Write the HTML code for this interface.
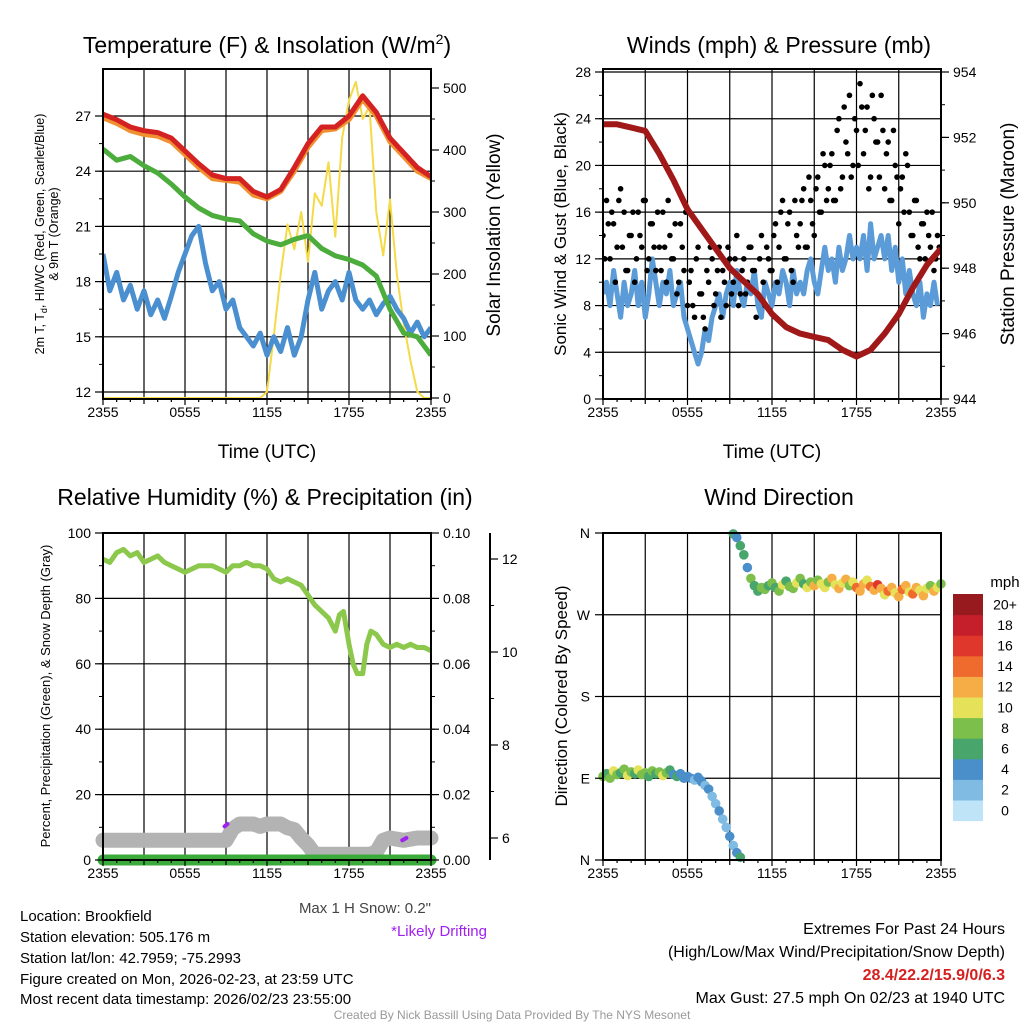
<!DOCTYPE html>
<html><head><meta charset="utf-8"><style>
body{margin:0;background:#fff}
svg{display:block;font-family:"Liberation Sans",sans-serif}
</style></head><body>
<svg id="chart" width="1024" height="1024" viewBox="0 0 1024 1024" xmlns="http://www.w3.org/2000/svg">
<rect x="0" y="0" width="1024" height="1024" fill="#fff"/>
<defs>
<clipPath id="c1"><rect x="103" y="69" width="328" height="330"/></clipPath>
<clipPath id="c2"><rect x="603" y="69" width="338" height="330"/></clipPath>
<clipPath id="c3"><rect x="90" y="533" width="350" height="340"/></clipPath>
<clipPath id="c4"><rect x="596" y="526" width="352" height="341"/></clipPath>
</defs>
<text x="267" y="53" font-size="23" text-anchor="middle">Temperature (F) &amp; Insolation (W/m<tspan font-size="14" dy="-9">2</tspan><tspan dy="9">)</tspan></text>
<text x="779" y="53" font-size="23" text-anchor="middle">Winds (mph) &amp; Pressure (mb)</text>
<text x="265" y="505" font-size="23" text-anchor="middle">Relative Humidity (%) &amp; Precipitation (in)</text>
<text x="779" y="505" font-size="23" text-anchor="middle">Wind Direction</text>
<text x="267" y="458" font-size="19" text-anchor="middle">Time (UTC)</text>
<text x="772" y="458" font-size="19" text-anchor="middle">Time (UTC)</text>
<text transform="translate(44,234) rotate(-90)" font-size="12.5" text-anchor="middle">2m T, T<tspan font-size="9" dy="3">d</tspan><tspan dy="-3">, HI/WC (Red, Green, Scarlet/Blue)</tspan></text>
<text transform="translate(58,234) rotate(-90)" font-size="12.5" text-anchor="middle">&amp; 9m T (Orange)</text>
<text transform="translate(500,235) rotate(-90)" font-size="19" text-anchor="middle">Solar Insolation (Yellow)</text>
<text transform="translate(566,234) rotate(-90)" font-size="17" text-anchor="middle">Sonic Wind &amp; Gust (Blue, Black)</text>
<text transform="translate(1014,234) rotate(-90)" font-size="19" text-anchor="middle">Station Pressure (Maroon)</text>
<text transform="translate(50,696) rotate(-90)" font-size="13" text-anchor="middle">Percent, Precipitation (Green), &amp; Snow Depth (Gray)</text>
<text transform="translate(567,696) rotate(-90)" font-size="17" text-anchor="middle">Direction (Colored By Speed)</text>
<text x="431" y="913" font-size="15" fill="#444" text-anchor="end">Max 1 H Snow: 0.2"</text>
<text x="487" y="936" font-size="15" fill="#a020f0" text-anchor="end">*Likely Drifting</text>
<g font-size="15">
<text x="20" y="921">Location: Brookfield</text>
<text x="20" y="942">Station elevation: 505.176 m</text>
<text x="20" y="963">Station lat/lon: 42.7959; -75.2993</text>
<text x="20" y="984">Figure created on Mon, 2026-02-23, at 23:59 UTC</text>
<text x="20" y="1004">Most recent data timestamp: 2026/02/23 23:55:00</text>
</g>
<g font-size="16" text-anchor="end">
<text x="1005" y="934">Extremes For Past 24 Hours</text>
<text x="1005" y="957">(High/Low/Max Wind/Precipitation/Snow Depth)</text>
<text x="1005" y="980" font-weight="bold" fill="#d42020">28.4/22.2/15.9/0/6.3</text>
<text x="1005" y="1003">Max Gust: 27.5 mph On 02/23 at 1940 UTC</text>
</g>
<text x="512" y="1019" font-size="12" fill="#999" text-anchor="middle">Created By Nick Bassill Using Data Provided By The NYS Mesonet</text>
<text x="1005" y="587" font-size="15" text-anchor="middle">mph</text>
</svg>
<script>
// ---------- DATA ----------
const tempHours = [0,1,2,3,4,5,6,7,8,9,10,11,12,13,14,15,16,17,18,19,20,21,22,23,24];
const temp2m = [27.1,26.8,26.4,26.2,26.1,25.8,25.1,24.4,23.8,23.6,23.6,22.9,22.6,23.0,24.2,25.5,26.4,26.4,27.0,28.1,27.2,25.8,25.0,24.2,23.7];
const temp9m = [26.9,26.6,26.2,26.0,25.9,25.6,24.9,24.2,23.6,23.5,23.4,22.7,22.5,22.9,24.0,25.3,26.2,26.3,26.8,27.9,27.0,25.6,24.8,24.0,23.6];
const dewpoint = [25.2,24.6,24.8,24.3,23.9,23.3,22.6,22.0,21.6,21.4,21.3,20.6,20.2,20.0,20.3,20.5,19.8,19.4,19.2,18.9,18.3,16.5,15.2,15.0,14.0];
const halfHours = [0,0.5,1,1.5,2,2.5,3,3.5,4,4.5,5,5.5,6,6.5,7,7.5,8,8.5,9,9.5,10,10.5,11,11.5,12,12.5,13,13.5,14,14.5,15,15.5,16,16.5,17,17.5,18,18.5,19,19.5,20,20.5,21,21.5,22,22.5,23,23.5,24];
const windChill = [19.5,17.5,18.5,17,17.8,16.5,17.5,16.2,17,16,17.2,18.5,19.5,20.5,21,19,17.5,18,16.5,17,15.5,15,14.5,15.2,14,15,14.2,15.5,14,15,17,18.5,16.5,17.5,18,17,18.5,17,16.5,17,16.2,16.8,17.2,16.5,16,15.2,15.8,15,15.5];
const solar = [0,0,0,0,0,0,0,0,0,0,0,0,0,0,0,0,0,0,0,0,0,0,0,0,10,100,200,280,240,300,220,330,310,380,260,420,480,510,450,470,300,230,320,200,120,60,10,0,0];
const tempTicks = [12,15,18,21,24,27];
const solarTicks = [0,100,200,300,400,500];
const timeLabels = ['2355','0555','1155','1755','2355'];

const quarterStep = 0.25;
const sonicWind = [9,10,8,11,9,7,10,8, 9,11,8,10,7,9,12,10, 8,10,9,11,8,9,10,7, 6,5,4,3,4,6,5,7, 8,9,7,9,10,8,11,9, 8,10,9,11,8,7,10,9, 8,10,9,11,10,8,11,9, 10,9,11,12,10,9,11,13, 11,12,10,13,11,12,14,12, 13,12,14,11,15,12,13,14, 12,14,11,13,10,12,9,11, 9,8,10,7,9,8,10,8];
const gusts = [14,17,12,15,13,18,16,11, 14,10,16,13,17,12,15,11, 13,16,10,14,12,9,15,11, 8,11,7,13,9,6,10,12, 9,13,11,8,12,10,14,9, 12,10,13,11,9,14,8,12, 11,15,13,17,12,16,10,14, 15,18,13,17,14,19,16,20, 18,21,17,24,19,22,26,20, 23,27,21,25,19,24,22,26, 18,22,17,20,15,19,21,16, 14,17,12,15,16,13,11,14];
const gusts2 = [12,15,16,10,17,13,11,14, 16,12,14,17,11,15,13,16, 11,13,17,12,15,10,13,16, 10,8,12,9,7,11,13,8, 11,7,10,13,9,12,8,11, 9,13,11,7,12,10,13,11, 14,10,16,12,15,11,17,13, 17,13,19,15,18,16,21,17, 20,17,23,18,25,21,19,24, 20,25,23,18,26,22,19,23, 21,17,23,19,18,16,20,14, 17,13,15,12,14,16,12,13];
const pressure = [952.4,952.4,952.3,952.2,951.5,950.7,949.8,949.2,948.6,948.0,947.6,947.2,946.6,946.2,946.0,945.9,945.8,945.5,945.3,945.5,946.0,946.6,947.4,948.1,948.6];
const windTicks = [0,4,8,12,16,20,24,28];
const pressTicks = [944,946,948,950,952,954];

const rhHours = [0,0.5,1,1.5,2,2.5,3,3.5,4,4.5,5,5.5,6,6.5,7,7.5,8,8.5,9,9.5,10,10.5,11,11.5,12,12.5,13,13.5,14,14.5,15,15.5,16,16.5,17,17.3,17.6,18,18.3,18.6,19,19.3,19.6,20,20.5,21,21.5,22,22.5,23,23.5,24];
const rh = [92,91,94,95,93,94,91,92,93,91,90,89,88,89,90,90,90,89,88,90,90,91,90,90,89,86,85,86,85,84,81,78,76,74,70,75,76,66,60,57,57,66,70,69,66,65,66,65,66,65,65,64];
const snowHours = [0,2,4,6,8,9,9.5,10,11,11.5,12,13,13.5,14,14.5,15,15.5,17,19,19.5,20,20.5,21,22,23,24];
const snowDepth = [5.95,5.95,5.95,5.95,5.95,5.95,6.2,6.3,6.3,6.25,6.3,6.3,6.22,6.18,6.0,5.85,5.65,5.65,5.65,5.65,5.7,5.95,6.0,5.95,6.0,6.0];
const precip = [0,0];
const precipHours = [0,24];
const rhTicks = [0,20,40,60,80,100];
const precipTicks = [0,0.02,0.04,0.06,0.08,0.10];
const snowTicks = [6,8,10,12];
const driftHours = [[8.9,9.1],[21.9,22.2]];
const driftDepth = [[6.25,6.3],[5.95,6.0]];

const dirSeg1 = [92,95,90,98,94,96,100,93,97,95,99,94,96,92,98,95,97,93,96,99,94,92,95,90,92,90,88,91,87];
const spdSeg1 = [8,7,9,10,8,6,9,11,8,7,10,9,8,6,9,7,8,10,9,6,5,6,5,4,5,4,3,5,4];
const dirSeg2 = [86,82,78,70,62,54,45,36,26,16,8,3];
const spdSeg2 = [4,3,4,2,3,4,2,3,4,3,5,6];
const dirSeg3 = [359,355,346,336,322,310,302,296,300];
const spdSeg3 = [6,4,7,6,5,8,7,6,9];
const dirSeg4 = [298,302,305,300,296,303,307,301,299,305,310,304,300,306,302,308,304,300,306,310,303,299,305,309,302,306,300,296,304,308,301,297,303,299,292,296,300,294,290,298,302,295,293,300,297,291,299,302,296,300,304];
const spdSeg4 = [8,7,9,6,8,10,7,9,8,11,9,7,10,8,12,9,11,10,8,12,11,13,10,12,9,11,14,12,13,11,15,12,16,13,11,14,12,10,13,15,12,11,14,12,10,13,11,9,12,10,8];
const segStarts = [0,7,9.25,11.5];
const dirTicks = [0,90,180,270,360];
const dirLabels = ['N','E','S','W','N'];
const speedColors = ['#bfe4f7','#7fbbe3','#4a8fca','#48a56c','#7cc04b','#e5e25a','#f6ad45','#ef6a2d','#e0372d','#c41f2a','#961a1e'];
const speedLabels = ['0','2','4','6','8','10','12','14','16','18','20+'];

// ---------- HELPERS ----------
const NS='http://www.w3.org/2000/svg';
const svg=document.getElementById('chart');
function mk(tag, attrs, parent){const e=document.createElementNS(NS,tag);for(const k in attrs)e.setAttribute(k,attrs[k]);(parent||svg).appendChild(e);return e;}
function lin(d0,d1,r0,r1){return v=>r0+(v-d0)*(r1-r0)/(d1-d0);}
function pathD(xs,ys,fx,fy){return xs.map((t,i)=>(i?'L':'M')+fx(t).toFixed(1)+','+fy(ys[i]).toFixed(1)).join('');}

function drawFrame(name,x0,x1,y0,y1,fx,yTicksPos,gridY){
  const g=mk('g',{});
  
  
  for(let h=3;h<24;h+=3){mk('line',{x1:fx(h),x2:fx(h),y1:y0,y2:y1,stroke:'#000','stroke-width':1.2},g);}
  if(gridY) yTicksPos.forEach(y=>{mk('line',{x1:x0,x2:x1,y1:y,y2:y,stroke:'#000','stroke-width':1.2},g);});
  return g;
}
function drawBox(name,x0,x1,y0,y1){
  const r=mk('rect',{x:x0,y:y0,width:x1-x0,height:y1-y0,fill:'none',stroke:'#000','stroke-width':2});
  
  
}
function xAxis(name,fx,y1){
  const g=mk('g',{});
  
  
  for(let h=0;h<=24;h+=1){const L=h%6===0?6:(h%3===0?5:3);mk('line',{x1:fx(h),x2:fx(h),y1:y1,y2:y1+L,stroke:'#000','stroke-width':1.2},g);}
  timeLabels.forEach((s,i)=>{const t=mk('text',{x:fx(i*6),y:y1+18,'font-size':14,'text-anchor':'middle'},g);t.textContent=s;});
}
function yAxis(name,x,side,ticks,fy,fmt,minorStep,y0,y1,lineX){
  const g=mk('g',{});
  
  
  const d=side==='left'?-1:1;
  if(lineX!==undefined) mk('line',{x1:lineX,x2:lineX,y1:y0,y2:y1,stroke:'#000','stroke-width':2},g);
  ticks.forEach(v=>{const y=fy(v);mk('line',{x1:x,x2:x+d*8,y1:y,y2:y,stroke:'#000','stroke-width':1.2},g);
    const t=mk('text',{x:x+d*12,y:y+5,'font-size':14,'text-anchor':side==='left'?'end':'start'},g);t.textContent=fmt(v);});
  if(minorStep){for(let v=ticks[0];v<=ticks[ticks.length-1]+1e-9;v+=minorStep){const y=fy(v);mk('line',{x1:x,x2:x+d*4,y1:y,y2:y,stroke:'#000','stroke-width':1},g);}}
}

// ---------- PANEL 1 ----------
{
const fx=lin(0,24,103,431), fy=lin(12,27,392,116), fs=lin(0,500,398,88);
drawFrame('temp',103,431,69,399,fx,tempTicks.map(fy),true);
const g=mk('g',{'clip-path':'url(#c1)'});


let p;
p=mk('path',{d:pathD(halfHours,solar,fx,fs),fill:'none',stroke:'#f5da48','stroke-width':2,'stroke-linejoin':'round'},g);


p=mk('path',{d:pathD(halfHours,windChill,fx,fy),fill:'none',stroke:'#4a8fcf','stroke-width':5,'stroke-linejoin':'round'},g);


p=mk('path',{d:pathD(tempHours,dewpoint,fx,fy),fill:'none',stroke:'#4cad3c','stroke-width':5,'stroke-linejoin':'round'},g);


p=mk('path',{d:pathD(tempHours,temp9m,fx,fy),fill:'none',stroke:'#f09030','stroke-width':5,'stroke-linejoin':'round'},g);


p=mk('path',{d:pathD(tempHours,temp2m,fx,fy),fill:'none',stroke:'#d42222','stroke-width':5,'stroke-linejoin':'round'},g);


drawBox('temp',103,431,69,399);
xAxis('temp',fx,399);
yAxis('temp-y-axis',103,'left',tempTicks,fy,v=>String(v),1.5,69,399);
yAxis('solar-y-axis',431,'right',solarTicks,fs,v=>String(v),50,69,399);
}
// ---------- PANEL 2 ----------
{
const fx=lin(0,24,603,941), fy=lin(0,28,399,72), fp=lin(944,954,399,72);
drawFrame('wind',603,941,69,399,fx,windTicks.map(fy),true);
const g=mk('g',{'clip-path':'url(#c2)'});


const qh=sonicWind.map((_,i)=>i*quarterStep);
let p=mk('path',{d:pathD(qh,sonicWind,fx,fy),fill:'none',stroke:'#5a9bd8','stroke-width':5,'stroke-linejoin':'round'},g);


gusts.forEach((v,i)=>{const c=mk('circle',{cx:fx(i*quarterStep),cy:fy(v),r:2.8,fill:'#000'},g);

});
gusts2.forEach((v,i)=>{const c=mk('circle',{cx:fx(i*quarterStep+0.125),cy:fy(v),r:2.8,fill:'#000'},g);

});
p=mk('path',{d:pathD(tempHours,pressure,fx,fp),fill:'none',stroke:'#a01818','stroke-width':6,'stroke-linejoin':'round'},g);


drawBox('wind',603,941,69,399);
xAxis('wind',fx,399);
yAxis('wind-y-axis',603,'left',windTicks,fy,v=>String(v),2,69,399);
yAxis('pressure-y-axis',941,'right',pressTicks,fp,v=>String(v),1,69,399);
}
// ---------- PANEL 3 ----------
{
const fx=lin(0,24,103,431), fy=lin(0,100,860,533), fr=lin(0,0.1,860,533), fsn=lin(6,12,838,559);
drawFrame('rh',103,431,533,860,fx,rhTicks.slice(1,5).map(fy),true);
const g=mk('g',{'clip-path':'url(#c3)'});


let p=mk('path',{d:pathD(snowHours,snowDepth,fx,fsn),fill:'none',stroke:'#b3b3b3','stroke-width':15,'stroke-linejoin':'round','stroke-linecap':'round'},g);


driftHours.forEach((hs,i)=>{const q=mk('path',{d:pathD(hs,driftDepth[i],fx,fsn),fill:'none',stroke:'#a020f0','stroke-width':4,'stroke-linecap':'round'},g);

});
p=mk('path',{d:pathD(precipHours,precip,fx,fr),fill:'none',stroke:'#3aaa3a','stroke-width':11,'stroke-linecap':'round'},g);


p=mk('path',{d:pathD(rhHours,rh,fx,fy),fill:'none',stroke:'#8cc84b','stroke-width':5,'stroke-linejoin':'round'},g);


drawBox('rh',103,431,533,860);
xAxis('rh',fx,860);
yAxis('rh-y-axis',103,'left',rhTicks,fy,v=>String(v),10,533,860);
yAxis('precip-y-axis',431,'right',precipTicks,fr,v=>v.toFixed(2),0.01,533,860);
yAxis('snow-y-axis',490,'right',snowTicks,fsn,v=>String(v),1,533,860,490);
}
// ---------- PANEL 4 ----------
{
const fx=lin(0,24,603,941), fd=lin(0,360,860,533);
drawFrame('dir',603,941,533,860,fx,dirTicks.slice(1,4).map(fd),true);
const g=mk('g',{'clip-path':'url(#c4)'});


[[dirSeg1,spdSeg1],[dirSeg2,spdSeg2],[dirSeg3,spdSeg3],[dirSeg4,spdSeg4]].forEach((seg,s)=>{
  seg[0].forEach((d,i)=>{const sp=seg[1][i];const ci=Math.min(10,Math.floor(sp/2));
    const c=mk('circle',{cx:fx(segStarts[s]+i*quarterStep),cy:fd(d),r:4.8,fill:speedColors[ci]},g);
    
    });
});
drawBox('dir',603,941,533,860);
xAxis('dir',fx,860);
const ga=mk('g',{});


dirTicks.forEach((v,i)=>{const y=fd(v);mk('line',{x1:603,x2:595,y1:y,y2:y,stroke:'#000','stroke-width':1.2},ga);
  const t=mk('text',{x:590,y:y+5,'font-size':14,'text-anchor':'end'},ga);t.textContent=dirLabels[i];});
const cb=mk('g',{});


const bh=20.6;
speedColors.forEach((c,i)=>{const y=594+(10-i)*bh;const r=mk('rect',{x:953,y:y,width:30,height:bh+0.5,fill:c},cb);
  
  
  const t=mk('text',{x:1005,y:y+bh/2+5,'font-size':14,'text-anchor':'middle'},cb);t.textContent=speedLabels[i];});
}
</script>
</body></html>
